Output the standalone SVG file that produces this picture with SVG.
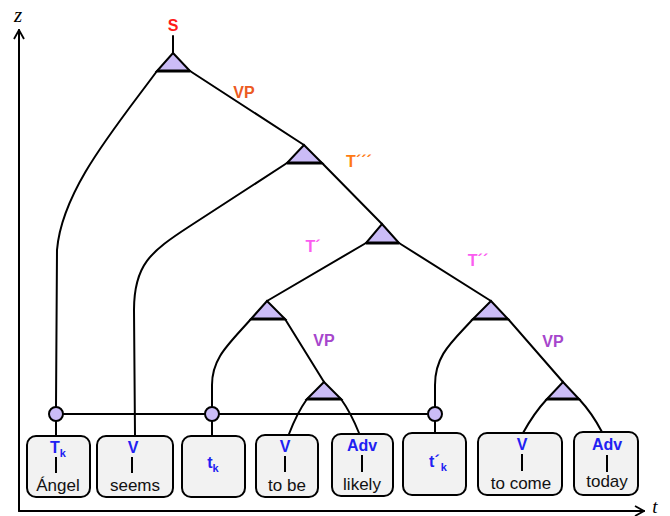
<svg xmlns="http://www.w3.org/2000/svg" width="670" height="516" viewBox="0 0 670 516">
<defs>
<marker id="arr" viewBox="0 0 12 12" refX="11" refY="6" markerWidth="12" markerHeight="12" markerUnits="userSpaceOnUse" orient="auto">
<polyline points="2,1 11,6 2,11" fill="none" stroke="#000" stroke-width="1.8"/>
</marker>
<style>
.ln{fill:none;stroke:#000;stroke-width:2;stroke-linecap:round;stroke-linejoin:round}
.tri{fill:#cbbcf7;stroke:#000;stroke-width:2;stroke-linejoin:miter}
.base{stroke:#000;stroke-width:3}
.dot{fill:#cbbcf7;stroke:#000;stroke-width:2}
.box{fill:#f2f2f2;stroke:#000;stroke-width:2}
.cat{font-family:"Liberation Sans",Arial,sans-serif;font-weight:bold;font-size:16px;fill:#2121f2;text-anchor:middle}
.sub{font-size:11px}
.word{font-family:"Liberation Sans",Arial,sans-serif;font-size:17px;fill:#111;text-anchor:middle}
.lab{font-family:"Liberation Sans",Arial,sans-serif;font-weight:bold;font-size:16px;text-anchor:middle}
.tick{stroke:#000;stroke-width:2}
</style>
</defs>
<rect width="670" height="516" fill="#fff"/>
<g id="axes">
<line x1="19" y1="511" x2="19" y2="30" class="ln" marker-end="url(#arr)"/>
<line x1="19" y1="511" x2="644" y2="511" class="ln" marker-end="url(#arr)"/>
<text x="18" y="22" font-family="Liberation Serif,serif" font-style="italic" font-size="21" text-anchor="middle">z</text>
<text x="655" y="513" font-family="Liberation Serif,serif" font-style="italic" font-size="19" text-anchor="middle">t</text>
</g>
<g id="connectors">
<line x1="173" y1="36" x2="173" y2="53" class="ln"/>
<path class="ln" d="M157,71 C115,128 62,190 57,250 L56,407"/>
<line class="ln" x1="190" y1="71" x2="304" y2="145"/>
<path class="ln" d="M287,163 L190,226 C150,252 134,265 134,310 L135,435"/>
<line class="ln" x1="322" y1="163" x2="382" y2="224"/>
<path class="ln" d="M366,243 L267,301"/>
<line class="ln" x1="399" y1="243" x2="491" y2="301"/>
<path class="ln" d="M251,319 C228,345 212,358 212,385 L212,407"/>
<line class="ln" x1="285" y1="319" x2="324" y2="382"/>
<path class="ln" d="M473,319 C452,342 435,355 435,385 L435,407"/>
<line class="ln" x1="508" y1="319" x2="563" y2="382"/>
<path class="ln" d="M307,399 Q297,413 289,434"/>
<path class="ln" d="M341,399 Q351,413 359,433"/>
<path class="ln" d="M547,399 Q534,413 523,433"/>
<path class="ln" d="M579,399 Q592,413 602,432"/>
<line class="ln" x1="63" y1="414" x2="427" y2="414"/>
<line class="ln" x1="56" y1="421" x2="56" y2="435"/>
<line class="ln" x1="212" y1="421" x2="212" y2="435"/>
<line class="ln" x1="435" y1="421" x2="435" y2="433"/>
</g>
<g id="tri-S"><path class="tri" d="M173,53 L190,71 L157,71 Z"/><line class="base" x1="157" y1="71" x2="190" y2="71"/></g>
<g id="tri-T3"><path class="tri" d="M304,145 L322,163 L287,163 Z"/><line class="base" x1="287" y1="163" x2="322" y2="163"/></g>
<g id="tri-T"><path class="tri" d="M382,224 L399,243 L366,243 Z"/><line class="base" x1="366" y1="243" x2="399" y2="243"/></g>
<g id="tri-T1"><path class="tri" d="M267,301 L285,319 L251,319 Z"/><line class="base" x1="251" y1="319" x2="285" y2="319"/></g>
<g id="tri-VP1"><path class="tri" d="M324,382 L341,399 L307,399 Z"/><line class="base" x1="307" y1="399" x2="341" y2="399"/></g>
<g id="tri-T2"><path class="tri" d="M491,301 L508,319 L473,319 Z"/><line class="base" x1="473" y1="319" x2="508" y2="319"/></g>
<g id="tri-VP2"><path class="tri" d="M563,382 L579,399 L547,399 Z"/><line class="base" x1="547" y1="399" x2="579" y2="399"/></g>
<g id="dots">
<circle class="dot" cx="56" cy="414" r="7"/>
<circle class="dot" cx="212" cy="414" r="7"/>
<circle class="dot" cx="435" cy="414" r="7"/>
</g>
<g id="labels">
<text class="lab" x="173" y="31" fill="#ff1a1a">S</text>
<text class="lab" x="244" y="98" fill="#ec5a22" font-size="17">VP</text>
<text class="lab" x="359" y="167" fill="#ff7a12">T´´´</text>
<text class="lab" x="313" y="252" fill="#fb5cf0">T´</text>
<text class="lab" x="478" y="266" fill="#fb5cf0">T´´</text>
<text class="lab" x="324" y="346" fill="#a646cc" font-size="17">VP</text>
<text class="lab" x="553" y="347" fill="#a646cc" font-size="17">VP</text>
</g>
<g id="leaf-angel">
<rect class="box" x="27" y="436" width="63" height="61" rx="9"/>
<text class="cat" x="58" y="453">T<tspan class="sub" dy="4">k</tspan></text>
<line class="tick" x1="56" y1="457" x2="56" y2="473"/>
<text class="word" x="58" y="491">Ángel</text>
</g>
<g id="leaf-seems">
<rect class="box" x="97" y="436" width="76" height="61" rx="9"/>
<text class="cat" x="133" y="453">V</text>
<line class="tick" x1="132" y1="457" x2="132" y2="473"/>
<text class="word" x="135" y="491">seems</text>
</g>
<g id="leaf-tk">
<rect class="box" x="182" y="436" width="63" height="61" rx="9"/>
<text class="cat" x="213" y="468">t<tspan class="sub" dy="4">k</tspan></text>
</g>
<g id="leaf-tobe">
<rect class="box" x="256" y="435" width="62" height="62" rx="9"/>
<text class="cat" x="285" y="452">V</text>
<line class="tick" x1="285" y1="456" x2="285" y2="472"/>
<text class="word" x="287" y="491">to be</text>
</g>
<g id="leaf-likely">
<rect class="box" x="332" y="434" width="61" height="62" rx="9"/>
<text class="cat" x="362" y="451">Adv</text>
<line class="tick" x1="362" y1="455" x2="362" y2="472"/>
<text class="word" x="362" y="490">likely</text>
</g>
<g id="leaf-tprimek">
<rect class="box" x="403" y="433" width="63" height="62" rx="9"/>
<text class="cat" x="438" y="467">t´<tspan class="sub" dx="1" dy="4">k</tspan></text>
</g>
<g id="leaf-tocome">
<rect class="box" x="478" y="433" width="84" height="62" rx="9"/>
<text class="cat" x="522" y="450">V</text>
<line class="tick" x1="522" y1="454" x2="522" y2="471"/>
<text class="word" x="521" y="489">to come</text>
</g>
<g id="leaf-today">
<rect class="box" x="574" y="432" width="64" height="63" rx="9"/>
<text class="cat" x="607" y="450">Adv</text>
<line class="tick" x1="607" y1="455" x2="607" y2="472"/>
<text class="word" x="607" y="487">today</text>
</g>
</svg>
